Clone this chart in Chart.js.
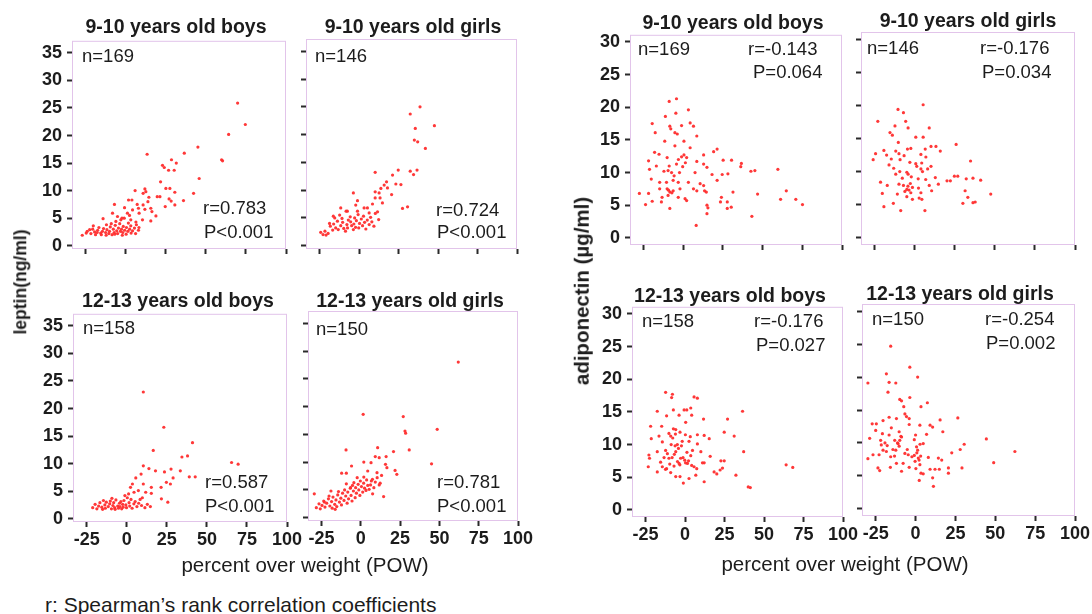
<!DOCTYPE html>
<html><head><meta charset="utf-8">
<script src="https://cdn.jsdelivr.net/npm/chart.js@4.4.1/dist/chart.umd.min.js"></script>
<style>
html,body{margin:0;padding:0;background:#fff;}
#stage{position:relative;width:1092px;height:614px;overflow:hidden;font-family:"Liberation Sans",Arial,sans-serif;color:#1c1c1c;background:#fff;}
#stage canvas{position:absolute;}
.t{position:absolute;white-space:nowrap;line-height:1;}
</style></head><body><div id="stage"></div>
<script>
// ---------------- DATA ----------------
const panelTitles = ["9-10 years old boys","9-10 years old girls","12-13 years old boys","12-13 years old girls"];
const xTickValues = [-25,0,25,50,75,100];
const leptinTickValues = [0,5,10,15,20,25,30,35];
const adipoTickValues = [0,5,10,15,20,25,30];
const nLabels = ["n=169","n=146","n=158","n=150"];
const leptinR = ["r=0.783","r=0.724","r=0.587","r=0.781"];
const leptinP = ["P<0.001","P<0.001","P<0.001","P<0.001"];
const adipoR = ["r=-0.143","r=-0.176","r=-0.176","r=-0.254"];
const adipoP = ["P=0.064","P=0.034","P=0.027","P=0.002"];

// leptin (ng/ml) vs POW, 9-10 boys
const leptinBoys910 = [[69.8,25.9],[74.6,22.0],[64.2,20.2],[45,17.9],[36.5,16.8],[13.3,16.6],[59.8,15.6],[60.4,15.4],[28.5,15.6],[31.5,15.0],[22.9,14.6],[24,14.2],[26.7,13.7],[30.2,13.7],[45.8,12.2],[21.7,11.6],[5.8,10.0],[11.9,10.3],[12.5,9.8],[10.8,9.5],[25,10.4],[27.5,10.4],[30.6,9.7],[42.3,9.5],[19.6,8.9],[21.3,8.9],[27,8.5],[28.3,8.1],[36,8.2],[14.4,8.8],[13.8,8.0],[1.7,8.3],[3.8,8.3],[7.1,7.5],[7.9,6.8],[10.8,7.4],[15.6,6.8],[16.3,6.2],[24.6,7.1],[30.6,7.4],[-7.1,7.5],[-0.8,6.9],[1,5.9],[4.2,6.5],[8.3,5.9],[11.9,6.6],[18.8,5.4],[15.6,4.5],[-8.3,5.9],[-5.2,5.3],[-3.1,4.7],[-1,5.0],[3.1,4.7],[6.3,4.3],[10.4,4.7],[7.9,2.8],[-14.2,4.9],
[-27.2,1.9],[-24.1,2.6],[-22.6,2.9],[-21.8,2.2],[-20.7,3.0],[-19.5,2.5],[-18.9,2.0],[-17.6,2.8],[-16.8,3.3],[-15.7,2.3],[-14.6,2.6],[-15.3,2.0],[-13.9,3.1],[-12.6,2.4],[-11.8,2.9],[-12.3,1.9],[-10.6,2.2],[-9.7,3.4],[-10.2,2.6],[-8.6,2.0],[-7.8,3.0],[-7.3,2.4],[-6.6,3.7],[-6.9,2.1],[-5.7,2.7],[-4.6,3.2],[-5.1,2.2],[-3.8,4.0],[-3.4,2.6],[-2.7,3.0],[-2.2,1.9],[-1.6,3.5],[-1.9,2.4],[-0.7,2.8],[0.4,3.3],[0.2,2.1],[1.3,2.6],[1.6,4.1],[2.4,3.0],[3.3,2.3],[3.1,3.6],[4.2,2.7],[5.4,3.2],[6.1,2.2],[-6.2,4.4],[-2.4,5.0],[2.3,5.5],[-9.1,4.0],[-12.1,3.8],[-17.9,2.4],[-24.7,2.3],[-20.3,3.6],[6.6,3.8],[8.2,3.3]];

// leptin, 9-10 girls
const leptinGirls910 = [[38.6,25.0],[32.4,23.7],[47.7,21.6],[35.6,21.1],[35,19.0],[37.1,18.7],[42,17.5],[10.2,13.2],[24.8,13.6],[21.2,12.7],[32.4,13.4],[34.5,12.8],[36.7,13.6],[17.4,11.5],[15.9,10.9],[23.3,11.1],[26.5,11.0],[13.8,10.3],[18,10.4],[10.2,9.7],[12.7,9.5],[-3.6,9.5],[10.2,8.6],[13.3,8.6],[20.6,9.2],[14.8,7.7],[27.5,6.7],[30.7,7.0],[8.5,7.5],[5.3,6.8],[-1,8.1],[-2.1,7.3],[-11.6,6.8],[-7.4,6.2],[-1,6.2],[3.2,6.8],[6.4,5.9],[11.7,6.1],[-16.3,5.3],
[-24.3,2.4],[-22.8,2.0],[-21.6,2.6],[-20.9,1.9],[-19.6,2.2],[-18.2,3.5],[-16.7,2.8],[-16.1,3.9],[-14.8,3.2],[-13.7,4.4],[-13.2,2.9],[-11.6,3.6],[-10.8,4.9],[-9.7,3.1],[-10.4,4.2],[-8.6,2.6],[-7.7,3.8],[-6.8,4.6],[-7.3,3.2],[-5.6,5.2],[-4.7,3.6],[-5.3,4.3],[-3.6,2.9],[-2.8,5.0],[-3.3,3.9],[-1.7,4.5],[-2.2,3.3],[-0.6,5.6],[0.3,4.0],[-0.2,3.2],[1.4,4.8],[2.2,3.6],[2.8,5.3],[3.5,4.2],[4.3,3.0],[5.2,4.6],[6.4,3.8],[7.3,5.1],[8.1,4.3],[9.4,3.5],[-18.7,4.0],[-12.3,5.5],[-8.2,6.2],[-15.4,5.0],[10.3,5.8],[12.4,4.7]];

// leptin, 12-13 boys
const leptinBoys1213 = [[10.3,23.0],[23.1,16.6],[41,13.8],[16.5,12.4],[34.4,11.2],[37.9,11.4],[65.4,10.2],[69.5,9.9],[10.3,9.6],[13.8,9.1],[17.9,8.7],[23.5,8.5],[27.6,9.0],[33.4,8.7],[8.9,8.1],[5.6,7.4],[39,7.6],[42.7,7.6],[28.9,7.4],[27.2,6.3],[24.7,6.6],[3.5,6.3],[2.3,5.7],[10.3,6.3],[15.3,5.7],[21.4,5.7],[7.2,5.1],[4.5,4.8],[11.8,4.8],[15.3,4.6],[21.6,3.6],[25.6,3.0],[9.7,3.8],
[-21.3,2.0],[-19.8,2.6],[-18.7,1.8],[-17.6,2.3],[-16.8,2.9],[-15.6,2.1],[-15.1,1.7],[-13.7,2.5],[-12.8,3.0],[-13.4,1.9],[-11.6,2.2],[-10.7,2.7],[-9.6,1.8],[-10.3,3.2],[-8.7,2.4],[-7.6,2.0],[-8.2,2.9],[-6.8,3.4],[-7.3,1.7],[-5.7,2.3],[-4.6,2.8],[-5.2,1.9],[-3.7,3.1],[-4.3,2.2],[-2.6,2.6],[-3.2,1.8],[-1.8,3.3],[-2.3,2.1],[-0.6,2.5],[0.3,3.8],[-0.2,2.0],[1.4,2.9],[1.8,2.3],[2.6,3.5],[3.3,1.9],[4.4,2.7],[5.2,3.1],[6.3,2.2],[7.4,2.8],[9.2,2.4],[11.3,2.0],[12.8,2.6],[14.7,2.2],[-14.6,3.3],[-9.3,3.7],[-1.2,4.2],[1.1,4.5],[8.3,3.5]];

// leptin, 12-13 girls
const leptinGirls1213 = [[62,28.0],[1.5,18.6],[27,18.2],[28.1,15.6],[28.5,15.2],[48.6,15.9],[10.7,12.6],[-9.4,12.2],[30.8,12.2],[20.8,11.9],[9.2,11.0],[11.7,10.8],[16.1,11.0],[1.9,10.0],[6.5,9.9],[15.7,9.6],[16.6,9.0],[45,9.7],[21.8,8.5],[22.9,7.8],[-5.9,9.3],[-12.2,8.0],[-9.2,8.0],[4.4,8.4],[10.3,8.1],[-2.3,7.2],[1.9,7.3],[6.7,6.6],[11.7,5.9],[14.5,3.8],[7.5,4.3],[-4.4,6.3],[-6.5,5.4],[-19,4.8],[-29.6,4.3],
[-28.3,1.8],[-26.6,2.5],[-25.8,1.6],[-24.7,2.2],[-23.6,3.0],[-22.8,1.9],[-21.7,2.6],[-20.6,3.4],[-19.7,2.1],[-18.6,2.9],[-17.7,3.7],[-18.2,1.7],[-16.6,2.4],[-15.8,3.2],[-14.7,4.1],[-15.3,2.0],[-13.6,2.8],[-12.7,3.5],[-11.6,4.4],[-12.3,2.3],[-10.7,3.1],[-9.6,3.9],[-10.3,5.0],[-8.7,2.6],[-7.8,3.4],[-8.3,4.6],[-6.7,5.3],[-5.6,3.0],[-6.2,4.0],[-4.7,4.8],[-5.3,5.8],[-3.6,3.6],[-2.8,4.4],[-3.3,5.4],[-1.7,6.0],[-0.6,4.0],[-1.3,5.0],[0.4,5.6],[-0.3,6.6],[1.2,4.6],[2.4,5.3],[1.8,6.2],[3.3,4.9],[4.4,5.8],[3.7,6.8],[5.3,5.1],[6.2,5.9],[7.4,6.9],[8.3,5.4],[9.2,6.4],[10.4,7.2],[12.3,6.2],[13.2,7.6],[-20.2,3.9],[-16.3,1.5],[-23.2,2.8],[-14.2,4.7],[-9.2,6.1]];

// adiponectin (µg/ml) vs POW, 9-10 boys
const adipoBoys910 = [[-8.9,20.9],[-4.3,21.3],[3.2,19.6],[-11.3,18.6],[-4.7,19.1],[-19.6,17.5],[-8.5,17.1],[-7.9,16.7],[-1.1,17.2],[4.3,17.6],[6.4,17.1],[-17.7,16.1],[-5.3,16.1],[-3.8,15.9],[8.5,15.6],[-11.7,14.8],[0.4,14.8],[-5.3,14.1],[4.3,13.8],[21.3,13.6],[19.1,13.2],[-18.1,13.1],[-15.3,12.8],[12.8,12.7],[-10.2,12.3],[-1.1,12.4],[0.4,12.7],[2.1,12.3],[8.5,11.7],[25.1,11.9],[30.4,11.9],[36.6,11.4],[36.2,10.9],[-21.9,11.8],[-17,11.0],[-8.9,11.0],[-4.3,11.3],[-0.4,10.9],[12.8,11.3],[14.9,10.8],[18.1,9.7],[24.5,9.7],[28.1,9.8],[42.6,10.2],[45.1,10.3],[59.6,10.5],[-9.6,10.3],[-7.4,10.0],[-21.3,10.5],[7.4,10.0],[-20.2,9.0],[-14.9,8.5],[-10.6,8.5],[-6.4,8.8],[-3.2,8.5],[3.2,8.5],[10.6,8.3],[12.8,8.0],[21.3,8.8],[-14.9,7.5],[-10.2,7.5],[-8.5,7.0],[-6.4,7.2],[-2.1,7.5],[6.4,7.5],[8.5,7.2],[13.4,7.2],[64.9,7.2],[-27.7,6.8],[-21.9,6.8],[-13.4,6.2],[-9.6,6.5],[-3.2,6.2],[1.1,6.0],[24,6.2],[31.3,7.0],[46.8,6.7],[14.5,7.0],[-19.6,5.6],[-13.8,5.5],[2.1,5.7],[61.3,5.9],[70.9,5.9],[23.4,5.5],[27.7,5.5],[-23.8,5.1],[75.1,5.1],[-8.5,4.5],[14.9,5.0],[15.5,4.6],[27.7,4.5],[30.2,4.7],[14.9,3.7],[43.2,3.3],[8.1,1.9],[-7.2,6.9],[-9.3,7.3],[-5.8,9.5],[-2.4,10.0],[1.3,11.5],[-12.2,10.2],[-3.1,12.0]];

// adiponectin, 9-10 girls
const adipoGirls910 = [[5.2,20.1],[-10.5,19.4],[-7.1,18.9],[-23.1,17.6],[-5.7,17.6],[-12.4,16.9],[-4.2,16.6],[9,16.6],[-15.5,15.9],[-14.0,15.5],[0.6,15.2],[5.2,15.2],[-10.3,14.4],[25.8,14.1],[10.1,13.8],[13.2,13.8],[-4.6,13.4],[-2.5,13.5],[6.5,13.4],[-19.3,13.2],[-11.9,13.1],[-9.9,12.7],[15.9,13.1],[-24.5,12.7],[-17.6,12.5],[-6.7,12.4],[3.8,12.6],[-14.7,11.9],[-9.2,11.8],[6.9,12.2],[-26,11.8],[34.8,11.6],[-3.1,11.4],[0.6,11.2],[-16.1,11.0],[10.1,10.8],[3.8,10.4],[4.8,10.0],[8,10.4],[-5,9.9],[-4.2,9.6],[-11.9,9.6],[-9.4,10.0],[-21.4,8.4],[2.1,8.9],[12.8,9.1],[24.7,9.3],[26.8,9.3],[20.1,8.6],[22.2,8.6],[32.1,8.9],[36.3,9.0],[41.1,8.7],[-17.2,7.9],[-9.9,8.1],[-7.1,7.9],[-5,7.3],[-3.6,7.2],[-2.5,6.8],[-1.5,7.6],[9,7.9],[14.7,8.1],[-20.3,6.7],[-10.9,6.6],[3.8,6.8],[10.5,7.1],[31.4,7.1],[47.4,6.6],[33.1,6.1],[2.7,6.0],[4.4,5.8],[-1.5,5.8],[-5,6.2],[36.3,5.3],[37.7,5.4],[30,5.2],[-13.4,5.2],[-19.3,4.7],[-8.8,4.1],[6.3,4.1],[-6.2,7.0],[-4.3,7.8],[-2.8,8.2],[1.2,10.8],[4.3,11.3],[-7.8,9.0],[-13.2,10.5],[6.8,8.8],[2.3,7.5],[-2.2,9.2]];

// adiponectin, 12-13 boys
const adipoBoys1213 = [[-12.3,18.0],[-8,17.7],[-8.5,17.2],[5.7,17.3],[7.8,17.1],[36.4,15.1],[-17.6,15.1],[-7.4,15.3],[-0.6,15.3],[1.1,15.3],[3.6,15.6],[-11.7,14.4],[-3.8,14.5],[4.2,14.5],[11.7,13.9],[26.9,13.9],[0.4,13.4],[-21.8,12.8],[-14.8,12.8],[-7.4,12.4],[-5.9,12.3],[-3.2,11.9],[24.8,11.9],[12.1,11.4],[7.8,11.5],[-10.2,11.7],[-9.1,11.3],[-16.5,11.3],[31.1,11.3],[15.3,10.9],[-21.4,10.9],[2.5,10.5],[-14.4,10.4],[-4.9,10.0],[-2.3,9.8],[7.8,10.1],[-12.3,9.1],[-11.2,8.6],[-17.6,8.9],[-5.9,8.9],[-4.2,9.4],[4.7,9.1],[10,8.9],[37.1,8.9],[-22.9,8.4],[3.6,8.3],[15.9,8.2],[-13.3,8.0],[-10.2,7.9],[-2.8,7.9],[-0.2,7.6],[-15.5,7.3],[22.7,7.5],[24.8,7.5],[11,7.2],[12.1,7.2],[-3.8,7.1],[1.5,7.1],[-7,6.7],[-23.3,6.6],[-14.4,6.6],[-11.7,6.3],[5.7,6.6],[7.4,6.3],[64,6.9],[68.2,6.5],[23.7,6.4],[22.2,6.1],[-17.6,5.8],[18.4,5.8],[20.1,5.5],[-22.5,7.9],[-9.1,5.7],[-3.2,5.1],[32.2,5.3],[-5.9,5.1],[6.8,5.3],[12.1,4.3],[2.5,4.8],[-1.1,4.1],[40,3.5],[41.3,3.4],[-8.2,8.0],[-6.8,8.5],[-6.3,9.8],[-1.3,8.0],[0.3,7.2],[1.2,8.8],[2.2,7.5],[-9.7,7.0],[-8.8,10.0],[-1.8,10.5],[3.3,11.2],[-6.1,11.6],[-7.8,11.0],[0.2,11.5],[4.2,6.8],[-3.3,6.9],[-12.4,6.2],[-4.8,7.4]];

// adiponectin, 12-13 girls
const adipoGirls1213 = [[-15.6,24.7],[-3.6,21.5],[1.3,20.0],[-18.3,20.5],[-29.9,19.1],[-16.6,19.2],[-12.4,19.1],[-17.3,17.7],[-3.6,16.9],[-9.9,16.6],[-8.8,16.4],[7.4,16.1],[3.4,15.5],[-7.4,15.5],[-6.7,14.4],[-5.7,14.0],[-16.6,13.9],[-12,13.7],[-20.4,13.4],[-4.0,13.7],[26.5,13.8],[15.4,13.5],[-27.2,12.9],[-24.6,12.9],[-4.0,12.8],[2.7,12.7],[9.1,12.7],[10.7,12.4],[-15.2,12.3],[-25,11.9],[17.1,11.7],[-10.3,11.7],[-20.8,11.4],[-16.6,11.2],[0,11.2],[6.9,11.3],[-8.8,10.9],[-9.9,10.4],[44.4,10.6],[-28.8,10.7],[-21.9,10.4],[-13.1,10.4],[-0.8,10.5],[4.8,9.9],[30.5,9.8],[-21.5,9.7],[-11,9.9],[-20.4,8.9],[-18.3,8.7],[-12.4,8.9],[0.6,9.4],[1.3,8.9],[28,9.0],[62.3,8.7],[22.7,8.5],[-26.7,8.2],[-22.9,8.2],[-6.7,8.4],[-4.6,8.2],[-0.8,8.1],[1.7,7.7],[8,7.8],[14.3,7.7],[16.4,7.4],[-15.6,7.9],[-29.9,7.6],[-12,6.9],[-7.8,6.9],[49,7.0],[2.7,6.7],[9.1,6.0],[-23.6,6.2],[-22.5,5.8],[-15.8,6.3],[-4.0,6.3],[12.2,6.0],[14.9,6.0],[20.6,6.2],[29.1,6.2],[-8.8,5.7],[0.2,6.1],[3.4,5.4],[4.8,5.3],[20.6,5.4],[10.7,4.7],[2.3,4.3],[11.2,3.4],[-17.8,9.6],[-14.2,9.0],[-10.3,9.5],[-5.2,9.0],[0.8,8.5],[2.8,9.8],[2.2,7.4],[-2.3,7.9],[-13.2,8.0],[-19.2,10.0],[-9.2,11.0],[-11.3,10.0],[-0.3,7.2],[3.2,8.0]];

// ---------------- LAYOUT / STYLE ----------------
const FONT = '"Liberation Sans", Arial, sans-serif';
const TEXT = '#1c1c1c';
const FRAME = '#e2c4ea';
const DOT = 'rgba(255,45,45,0.95)';
const X_MIN = -33.6, X_MAX = 100;
const LEP_MIN = -0.6, LEP_MAX = 37.2;
const ADI_MIN = -1.1, ADI_MAX = 31.1;
const YW = 60, XH = 34, PT = 14, PR = 26;

const panels = [
  {rect:[72,39,286,249],  data:leptinBoys910,   lep:true,  yl:true,  xl:false, ti:0, tXY:[176,27],   n:[82,56],    r:[203,208.5], p:[204,232]},
  {rect:[306,39,517,249], data:leptinGirls910,  lep:true,  yl:false, xl:false, ti:1, tXY:[413,27],   n:[315,56],   r:[436,210],   p:[437,232.5]},
  {rect:[73,312,287,522], data:leptinBoys1213,  lep:true,  yl:true,  xl:true,  ti:2, tXY:[178,300.5],n:[83,328.5], r:[205,482.5], p:[205,506]},
  {rect:[308,311,518,521],data:leptinGirls1213, lep:true,  yl:false, xl:true,  ti:3, tXY:[410,300.5],n:[316,329],  r:[437,482.5], p:[437,506]},
  {rect:[630,33,842,245], data:adipoBoys910,    lep:false, yl:true,  xl:false, ti:0, tXY:[733,22.5], n:[638,49],   r:[748,49],    p:[753,72.5]},
  {rect:[861,32,1075,245],data:adipoGirls910,   lep:false, yl:false, xl:false, ti:1, tXY:[968,21],   n:[867,48.5], r:[980,48.5],  p:[982,72.5]},
  {rect:[632,305,843,517],data:adipoBoys1213,   lep:false, yl:true,  xl:true,  ti:2, tXY:[730,295.5],n:[642,321],  r:[754,321],   p:[756,345]},
  {rect:[862,304,1075,516],data:adipoGirls1213, lep:false, yl:false, xl:true,  ti:3, tXY:[960,293.5],n:[872,319.5],r:[985,319.5], p:[986,343.5]}
];

const stage = document.getElementById('stage');
function addText(txt, x, y, o){
  const d = document.createElement('div');
  d.className = 't';
  d.textContent = txt;
  d.style.fontSize = o.size + 'px';
  d.style.fontWeight = o.weight || 'normal';
  d.style.left = x + 'px';
  if (o.rotate){
    d.style.top = y + 'px';
    d.style.transform = 'translate(-50%,-50%) rotate(-90deg)';
  } else {
    d.style.top = (y - o.size/2) + 'px';
    if (o.align === 'center') d.style.transform = 'translateX(-50%)';
  }
  stage.appendChild(d);
}

const framePlugin = {
  id:'frame',
  beforeDatasetsDraw(chart){
    const {ctx, chartArea:{left,top,right,bottom}} = chart;
    ctx.save();
    ctx.strokeStyle = FRAME; ctx.lineWidth = 1;
    ctx.strokeRect(left+0.5, top+0.5, right-left-1, bottom-top-1);
    ctx.restore();
  }
};

const tickFont = {family:FONT, size:18, weight:'bold'};
const gridOpts = {drawOnChartArea:false, drawTicks:true, tickLength:5, tickWidth:2, tickColor:'#2a2a2a'};

panels.forEach(p => {
  const [L,T,R,B] = p.rect;
  const c = document.createElement('canvas');
  const w = YW + (R-L) + PR, h = PT + (B-T) + XH;
  c.width = w; c.height = h;
  c.style.left = (L-YW) + 'px'; c.style.top = (T-PT) + 'px';
  c.style.width = w + 'px'; c.style.height = h + 'px';
  stage.appendChild(c);
  const yTicks = p.lep ? leptinTickValues : adipoTickValues;
  new Chart(c, {
    type:'scatter',
    data:{datasets:[{data:p.data.map(([x,y])=>({x,y})), pointRadius:1.6, pointHoverRadius:1.6,
      pointBackgroundColor:DOT, pointBorderWidth:0, showLine:false}]},
    options:{
      responsive:false, animation:false, events:[],
      layout:{padding:{left:0, top:PT, right:PR, bottom:0}},
      plugins:{legend:{display:false}, tooltip:{enabled:false}, title:{display:false}},
      scales:{
        x:{type:'linear', position:'bottom', min:X_MIN, max:X_MAX,
          afterBuildTicks:s=>{ s.ticks = xTickValues.map(v=>({value:v})); },
          afterFit:s=>{ s.height = XH; },
          border:{display:false}, grid:gridOpts,
          ticks:{display:p.xl, padding:2, maxRotation:0, autoSkip:false, font:tickFont, color:TEXT}},
        y:{type:'linear', position:'left', min:p.lep?LEP_MIN:ADI_MIN, max:p.lep?LEP_MAX:ADI_MAX,
          afterBuildTicks:s=>{ s.ticks = yTicks.map(v=>({value:v})); },
          afterFit:s=>{ s.width = YW; },
          border:{display:false}, grid:gridOpts,
          ticks:{display:p.yl, padding:5, autoSkip:false, font:tickFont, color:TEXT}}
      }
    },
    plugins:[framePlugin]
  });
  addText(panelTitles[p.ti], p.tXY[0], p.tXY[1], {size:19.5, weight:'bold', align:'center'});
  addText(nLabels[p.ti], p.n[0], p.n[1], {size:18.5});
  addText(p.lep ? leptinR[p.ti] : adipoR[p.ti], p.r[0], p.r[1], {size:18.5});
  addText(p.lep ? leptinP[p.ti] : adipoP[p.ti], p.p[0], p.p[1], {size:18.5});
});

addText('leptin(ng/ml)', 21, 282, {size:17.5, weight:'bold', rotate:true});
addText('adiponectin (\u00b5g/ml)', 582, 291, {size:20.5, weight:'bold', rotate:true});
addText('percent over weight (POW)', 305, 565, {size:20.5, align:'center'});
addText('percent over weight (POW)', 845, 564, {size:20.5, align:'center'});
addText('r: Spearman\u2019s rank correlation coefficients', 45, 604, {size:21});
</script>
</body></html>
